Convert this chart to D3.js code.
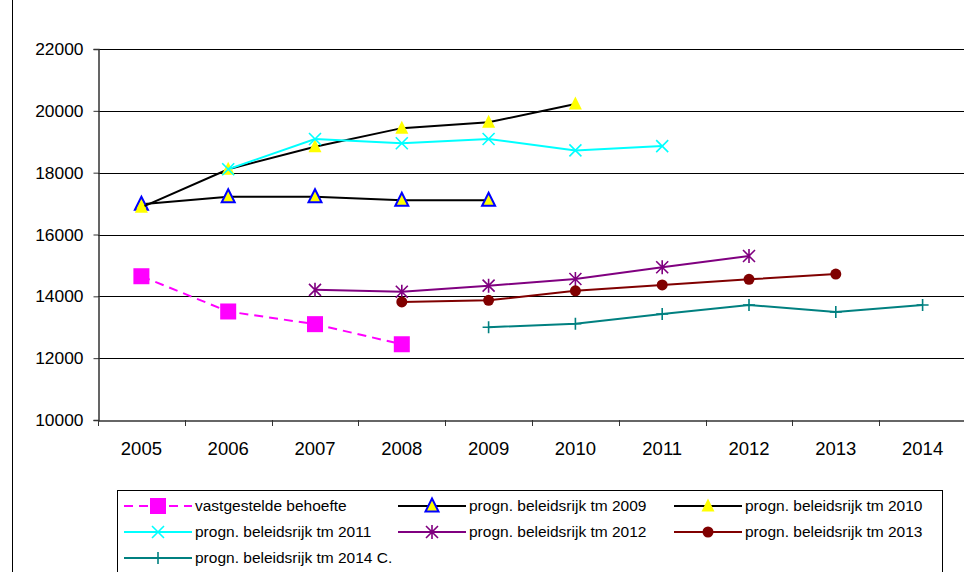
<!DOCTYPE html>
<html>
<head>
<meta charset="utf-8">
<script src="https://cdn.jsdelivr.net/npm/d3@7"></script>
<style>
  body { margin: 0; background: #fff; }
  svg { font-family: "Liberation Sans", Arial, sans-serif; }
</style>
</head>
<body>
<div id="chart"></div>
<script>
const years = ['2005', '2006', '2007', '2008', '2009', '2010', '2011', '2012', '2013', '2014'];
const yTicks = [10000, 12000, 14000, 16000, 18000, 20000, 22000];

// null = no value for that year
const vastgesteld = [14650, 13510, 13100, 12450, null, null, null, null, null, null];
const tm2009 = [16980, 17220, 17220, 17110, 17110, null, null, null, null, null];
const tm2010 = [16880, 18110, 18840, 19440, 19630, 20220, null, null, null, null];
const tm2011 = [null, 18110, 19090, 18950, 19090, 18720, 18860, null, null, null];
const tm2012 = [null, null, 14210, 14150, 14345, 14560, 14940, 15305, null, null];
const tm2013 = [null, null, null, 13820, 13870, 14180, 14370, 14550, 14720, null];
const tm2014 = [null, null, null, null, 13000, 13115, 13430, 13720, 13495, 13720];

const series = [
    { name: 'vastgestelde behoefte', values: vastgesteld, color: '#ff00ff', marker: 'square', dash: '9,6' },
    { name: 'progn. beleidsrijk tm 2009', values: tm2009, color: '#000000', marker: 'triOpen' },
    { name: 'progn. beleidsrijk tm 2010', values: tm2010, color: '#000000', marker: 'triFill' },
    { name: 'progn. beleidsrijk tm 2011', values: tm2011, color: '#00ffff', marker: 'x' },
    { name: 'progn. beleidsrijk tm 2012', values: tm2012, color: '#800080', marker: 'star' },
    { name: 'progn. beleidsrijk tm 2013', values: tm2013, color: '#800000', marker: 'circle' },
    { name: 'progn. beleidsrijk tm 2014 C.', values: tm2014, color: '#008080', marker: 'plus' }
];

const width = 964;
const height = 572;
const margin = { left: 98, top: 49 };

const svg = d3.select('#chart').append('svg').attr('width', width).attr('height', height);

// outer chart frame
svg.append('rect')
    .attr('x', 12.5).attr('y', -1)
    .attr('width', width + 10).attr('height', height + 10)
    .attr('fill', 'none').attr('stroke', '#000').attr('stroke-width', 1);

const x = d3.scaleBand().domain(years).range([margin.left, 964 + 2]);
const y = d3.scaleLinear().domain([10000, 22000]).range([420, 49]);

// gridlines
svg.append('g').selectAll('line').data(yTicks.slice(1)).join('line')
    .attr('x1', margin.left).attr('x2', width)
    .attr('y1', d => Math.round(y(d)) + 0.5).attr('y2', d => Math.round(y(d)) + 0.5)
    .attr('stroke', '#000').attr('stroke-width', 1);

// y axis
const yAxis = svg.append('g')
    .attr('transform', `translate(${margin.left + 0.5},0)`)
    .call(d3.axisLeft(y).tickValues(yTicks).tickSize(5).tickPadding(10).tickFormat(d3.format('d')));
yAxis.select('.domain').attr('stroke', '#333').attr('stroke-width', 1.5);
yAxis.selectAll('.tick line').attr('stroke', '#333');
yAxis.selectAll('text').attr('font-size', 17.4).attr('fill', '#000').attr('font-family', 'Liberation Sans, Arial, sans-serif');

// x axis
const xAxis = svg.append('g')
    .attr('transform', `translate(0,${Math.round(y(10000)) + 0.5})`)
    .call(d3.axisBottom(x).tickSize(0).tickPadding(21));
xAxis.select('.domain').attr('stroke', '#333').attr('stroke-width', 1.5);
xAxis.selectAll('text').attr('font-size', 18.5).attr('fill', '#000').attr('font-family', 'Liberation Sans, Arial, sans-serif');
// category boundary ticks
svg.append('g').selectAll('line').data(years).join('line')
    .attr('x1', d => Math.round(x(d)) + 0.5).attr('x2', d => Math.round(x(d)) + 0.5)
    .attr('y1', Math.round(y(10000))).attr('y2', Math.round(y(10000)) + 6)
    .attr('stroke', '#333');

function drawMarker(g, type, color, cx, cy) {
    if (type === 'square') {
        g.append('rect').attr('x', cx - 8).attr('y', cy - 8).attr('width', 16).attr('height', 16).attr('fill', color);
    } else if (type === 'triOpen' || type === 'triFill') {
        const s = 6.5;
        g.append('path')
            .attr('d', `M${cx},${cy - s - 1}L${cx + s},${cy + s - 1}L${cx - s},${cy + s - 1}Z`)
            .attr('fill', '#ffff00')
            .attr('stroke', type === 'triOpen' ? '#0000ff' : 'none')
            .attr('stroke-width', 2);
    } else if (type === 'x') {
        const s = 6;
        g.append('path')
            .attr('d', `M${cx - s},${cy - s}L${cx + s},${cy + s}M${cx - s},${cy + s}L${cx + s},${cy - s}`)
            .attr('stroke', color).attr('stroke-width', 1.6);
    } else if (type === 'star') {
        const s = 6;
        g.append('path')
            .attr('d', `M${cx - s},${cy - s}L${cx + s},${cy + s}M${cx - s},${cy + s}L${cx + s},${cy - s}M${cx},${cy - s - 1}L${cx},${cy + s + 1}`)
            .attr('stroke', color).attr('stroke-width', 1.6);
    } else if (type === 'circle') {
        g.append('circle').attr('cx', cx).attr('cy', cy).attr('r', 5.5).attr('fill', color);
    } else if (type === 'plus') {
        const s = 6;
        g.append('path')
            .attr('d', `M${cx - s},${cy}L${cx + s},${cy}M${cx},${cy - s}L${cx},${cy + s}`)
            .attr('stroke', color).attr('stroke-width', 1.6);
    }
}

const line = d3.line()
    .defined(d => d.v !== null)
    .x(d => x(d.year) + x.bandwidth() / 2)
    .y(d => y(d.v));

series.forEach(s => {
    const pts = years.map((yr, i) => ({ year: yr, v: s.values[i] }));
    svg.append('path')
        .datum(pts)
        .attr('d', line)
        .attr('fill', 'none')
        .attr('stroke', s.color)
        .attr('stroke-width', 2)
        .attr('stroke-dasharray', s.dash || null);
    const mg = svg.append('g');
    pts.filter(d => d.v !== null).forEach(d => {
        drawMarker(mg, s.marker, s.color, x(d.year) + x.bandwidth() / 2, y(d.v));
    });
});

// legend
const legend = svg.append('g');
legend.append('rect')
    .attr('x', 117.5).attr('y', 490.5)
    .attr('width', 825).attr('height', 100)
    .attr('fill', '#fff').attr('stroke', '#000').attr('stroke-width', 1);

const colX = [124, 398, 674];
const rowY = [506, 532, 558];
series.forEach((s, i) => {
    const lx = colX[i % 3];
    const ly = rowY[Math.floor(i / 3)];
    legend.append('line')
        .attr('x1', lx).attr('x2', lx + 68)
        .attr('y1', ly).attr('y2', ly)
        .attr('stroke', s.color).attr('stroke-width', 2)
        .attr('stroke-dasharray', s.dash ? '9,6' : null);
    drawMarker(legend, s.marker, s.color, lx + 34, ly);
    legend.append('text')
        .attr('x', lx + 71).attr('y', ly)
        .attr('dy', '0.35em')
        .attr('font-size', 15.5)
        .text(s.name);
});
</script>
</body>
</html>
